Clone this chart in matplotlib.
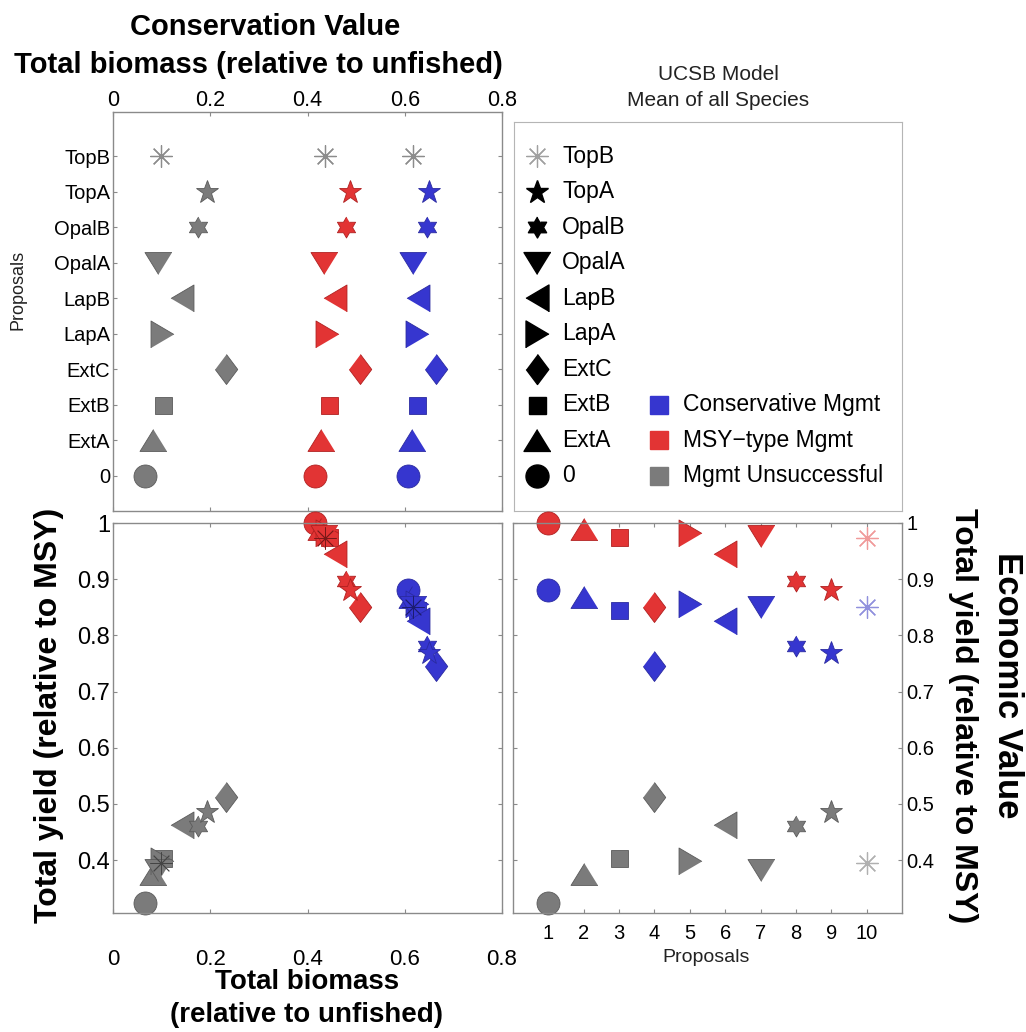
import numpy as np
import matplotlib
matplotlib.use("Agg")
import matplotlib.pyplot as plt

plt.rcParams['font.family'] = ['Liberation Sans', 'DejaVu Sans']

# proposals, in plotting order (1..10 on the proposals axis)
proposals = ['0', 'ExtA', 'ExtB', 'ExtC', 'LapA', 'LapB', 'OpalA', 'OpalB', 'TopA', 'TopB']
proposal_num = [1, 2, 3, 4, 5, 6, 7, 8, 9, 10]

# total biomass (relative to unfished)
biomass_cons = [0.607, 0.615, 0.625, 0.664, 0.625, 0.628, 0.617, 0.646, 0.650, 0.617]
biomass_msy = [0.416, 0.428, 0.444, 0.508, 0.440, 0.457, 0.434, 0.479, 0.488, 0.436]
biomass_fail = [0.066, 0.082, 0.103, 0.232, 0.100, 0.142, 0.093, 0.174, 0.193, 0.099]

# total yield (relative to MSY)
yield_cons = [0.880, 0.869, 0.846, 0.745, 0.856, 0.825, 0.851, 0.782, 0.768, 0.851]
yield_msy = [1.000, 0.990, 0.975, 0.851, 0.982, 0.945, 0.977, 0.896, 0.880, 0.973]
yield_fail = [0.324, 0.375, 0.404, 0.513, 0.398, 0.462, 0.382, 0.460, 0.485, 0.395]

biomass_ticks = [0, 0.2, 0.4, 0.6, 0.8]
biomass_tick_labels = ['0', '0.2', '0.4', '0.6', '0.8']
yield_ticks = [0.4, 0.5, 0.6, 0.7, 0.8, 0.9, 1.0]
yield_tick_labels = ['0.4', '0.5', '0.6', '0.7', '0.8', '0.9', '1']

mgmt_labels = ['Conservative Mgmt', 'MSY\u2212type Mgmt', 'Mgmt Unsuccessful']

#---figure layout in pixels
W, H = 1026, 1032
C_CONS, C_MSY, C_FAIL = '#3636cf', '#e23434', '#7b7b7b'
E_CONS, E_MSY, E_FAIL = '#2a2aa0', '#b02020', '#5a5a5a'
AXCOL = '#8a8a8a'


def fx(px):
    return px / W


def fy(py):
    return 1 - py / H


def box(x0, y0, x1, y1):
    return [x0 / W, 1 - y1 / H, (x1 - x0) / W, (y1 - y0) / H]


# matlab-like marker shapes
ang = np.pi / 2 + np.arange(12) * np.pi / 6
rad = np.where(np.arange(12) % 2 == 0, 1.0, 0.577)
hexagram = list(zip(rad * np.cos(ang), rad * np.sin(ang)))

MARKERS = {
    '0': 'o',
    'ExtA': [(0, 0.81), (-1, -0.81), (1, -0.81)],
    'ExtB': 's',
    'ExtC': [(0, 1), (0.75, 0), (0, -1), (-0.75, 0)],
    'LapA': [(0.85, 0), (-0.85, 1), (-0.85, -1)],
    'LapB': [(-0.85, 0), (0.85, 1), (0.85, -1)],
    'OpalA': [(0, -0.81), (-1, 0.81), (1, 0.81)],
    'OpalB': hexagram,
    'TopA': '*',
    'TopB': (8, 2, 0),
}
# sizes in pixels
SIZES = {'0': 23, 'ExtA': 27, 'ExtB': 17, 'ExtC': 30, 'LapA': 27, 'LapB': 27,
         'OpalA': 27, 'OpalB': 21, 'TopA': 24, 'TopB': 22}


def draw_points(ax, x, y, color, edge, star_color, star_lw=0.9):
    for i, p in enumerate(proposals):
        ms = SIZES[p] * 0.72
        if p == 'TopB':
            ax.plot(x[i], y[i], ls='none', marker=MARKERS[p], ms=ms, color=star_color,
                    mew=star_lw, clip_on=False)
        else:
            ax.plot(x[i], y[i], ls='none', marker=MARKERS[p], ms=ms, mfc=color,
                    mec=edge, mew=0.6, clip_on=False)


def style_axis(ax, color=AXCOL):
    for s in ax.spines.values():
        s.set_color(color)
        s.set_linewidth(1.0)
    ax.tick_params(direction='in', length=3, width=0.8, color=color,
                   top=True, bottom=True, left=True, right=True)


fig = plt.figure(figsize=(W / 100, H / 100), dpi=100)
ax_tl = fig.add_axes(box(113, 112, 502, 511))
ax_tr = fig.add_axes(box(514, 122, 902, 511))
ax_bl = fig.add_axes(box(113, 523, 502, 913))
ax_br = fig.add_axes(box(513, 523, 902, 913))

idx = list(range(len(proposals)))

#---top left: biomass for each proposal
draw_points(ax_tl, biomass_fail, idx, C_FAIL, E_FAIL, '#8c8c8c')
draw_points(ax_tl, biomass_msy, idx, C_MSY, E_MSY, '#8c8c8c')
draw_points(ax_tl, biomass_cons, idx, C_CONS, E_CONS, '#8c8c8c')
ax_tl.set_xlim(0, 0.8)
ax_tl.set_ylim(-1, 10.25)
style_axis(ax_tl)
ax_tl.set_xticks(biomass_ticks)
ax_tl.set_xticklabels(biomass_tick_labels)
ax_tl.set_yticks(idx)
ax_tl.set_yticklabels(proposals)
ax_tl.tick_params(labeltop=True, labelbottom=False)
ax_tl.tick_params(axis='x', labelsize=15.5, pad=0.5)
ax_tl.tick_params(axis='y', labelsize=14.5, pad=2)

#---top right: legend box
ax_tr.set_xlim(0, 1)
ax_tr.set_ylim(-1, 9.96)
ax_tr.set_xticks([])
ax_tr.set_yticks([])
for s in ax_tr.spines.values():
    s.set_color('#b5b5b5')
for i, p in enumerate(proposals):
    ms = SIZES[p] * 0.72
    if p == 'TopB':
        ax_tr.plot(0.059, i, ls='none', marker=MARKERS[p], ms=ms, color='#a0a0a0', mew=0.9)
    else:
        ax_tr.plot(0.059, i, ls='none', marker=MARKERS[p], ms=ms, color='black')
    ax_tr.text(0.124, i, p, fontsize=16.5, va='center', ha='left')
for k, (lab, col) in enumerate(zip(mgmt_labels, [C_CONS, C_MSY, C_FAIL])):
    row = 2 - k
    ax_tr.plot(0.374, row, ls='none', marker='s', ms=18 * 0.72, mfc=col, mec=col)
    ax_tr.text(0.436, row, lab, fontsize=16.5, va='center', ha='left')

#---bottom left: yield vs biomass
draw_points(ax_bl, biomass_fail, yield_fail, C_FAIL, E_FAIL, '#444444', 0.6)
draw_points(ax_bl, biomass_msy, yield_msy, C_MSY, E_MSY, '#7a1818', 0.6)
draw_points(ax_bl, biomass_cons, yield_cons, C_CONS, E_CONS, '#1c1c70', 0.6)
ax_bl.set_xlim(0, 0.8)
ax_bl.set_ylim(0.306, 1.0)
style_axis(ax_bl)
ax_bl.set_xticks(biomass_ticks)
ax_bl.set_xticklabels(biomass_tick_labels)
ax_bl.set_yticks(yield_ticks)
ax_bl.set_yticklabels(yield_tick_labels)
ax_bl.tick_params(axis='x', labelsize=16, pad=26)
ax_bl.tick_params(axis='y', labelsize=17, pad=2)

#---bottom right: yield for each proposal
draw_points(ax_br, proposal_num, yield_fail, C_FAIL, E_FAIL, '#b0b0b0')
draw_points(ax_br, proposal_num, yield_msy, C_MSY, E_MSY, '#f09a9a')
draw_points(ax_br, proposal_num, yield_cons, C_CONS, E_CONS, '#9090dd')
ax_br.set_xlim(0, 11)
ax_br.set_ylim(0.306, 1.0)
style_axis(ax_br)
ax_br.set_xticks(proposal_num)
ax_br.set_yticks(yield_ticks)
ax_br.set_yticklabels(yield_tick_labels)
ax_br.tick_params(labelleft=False, labelright=True)
ax_br.tick_params(axis='x', labelsize=14.5, pad=8)
ax_br.tick_params(axis='y', labelsize=14.5, pad=3)

#---titles and axis labels
fig.text(fx(265), fy(27), 'Conservation Value', fontsize=21, fontweight='bold', ha='center', va='center')
fig.text(fx(258), fy(65), 'Total biomass (relative to unfished)', fontsize=21, fontweight='bold',
         ha='center', va='center')
fig.text(fx(307), fy(982), 'Total biomass', fontsize=20, fontweight='bold', ha='center', va='center')
fig.text(fx(307), fy(1015), '(relative to unfished)', fontsize=20, fontweight='bold', ha='center', va='center')
fig.text(fx(49), fy(715), 'Total yield (relative to MSY)', fontsize=23, fontweight='bold',
         rotation=90, ha='center', va='center')
fig.text(fx(963), fy(716), 'Total yield (relative to MSY)', fontsize=23, fontweight='bold',
         rotation=270, ha='center', va='center')
fig.text(fx(1008), fy(685), 'Economic Value', fontsize=25, fontweight='bold',
         rotation=270, ha='center', va='center')
fig.text(fx(18), fy(290), 'Proposals', fontsize=13, rotation=90, ha='center', va='center', color='#222222')
fig.text(fx(706), fy(958), 'Proposals', fontsize=14, ha='center', va='center', color='#222222')
fig.text(fx(718), fy(75), 'UCSB Model', fontsize=15, ha='center', va='center', color='#222222')
fig.text(fx(718), fy(100), 'Mean of all Species', fontsize=15, ha='center', va='center', color='#222222')

fig.savefig('out.png', dpi=100)
